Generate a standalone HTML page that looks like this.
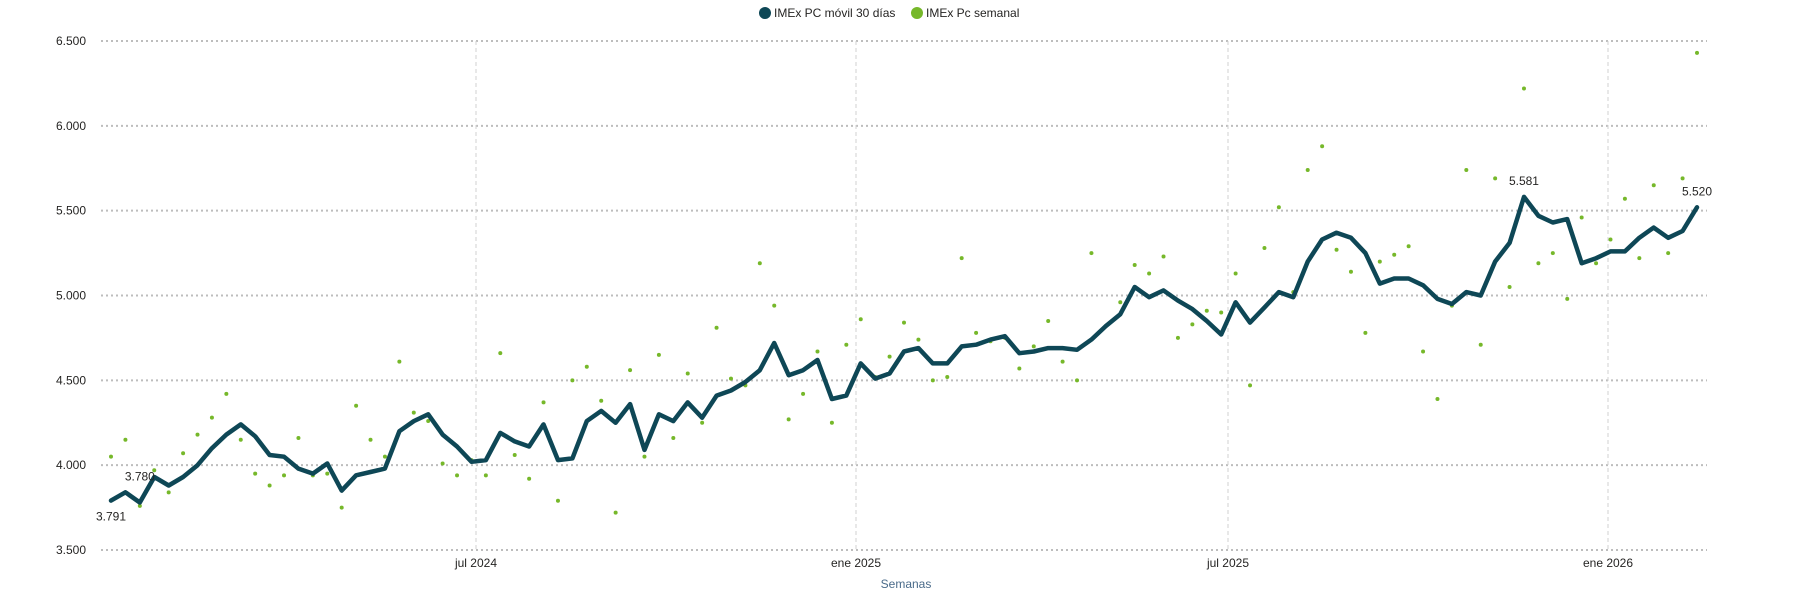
<!DOCTYPE html>
<html><head><meta charset="utf-8"><style>
html,body{margin:0;padding:0;background:#fff;}
svg{display:block;font-family:"Liberation Sans",sans-serif;}
</style></head><body>
<svg id="c" width="1793" height="593" xmlns="http://www.w3.org/2000/svg">
<g font-size="12" fill="#252423">
<circle cx="765" cy="13" r="6" fill="#0e4756"/><text x="774" y="17">IMEx PC móvil 30 días</text>
<circle cx="917" cy="13" r="6" fill="#76b82a"/><text x="926" y="17">IMEx Pc semanal</text>
</g>
<g id="grid"></g>
<g id="data"></g>
<text x="906" y="588" font-size="12" fill="#4a6b8a" text-anchor="middle">Semanas</text>
</svg>
<script>
var NS="http://www.w3.org/2000/svg";
function el(t,a,p,txt){var e=document.createElementNS(NS,t);for(var k in a)e.setAttribute(k,a[k]);if(txt)e.textContent=txt;p.appendChild(e);return e;}
function Y(v){return 41+(6500-v)/3000*509;}
var g=document.getElementById('grid'),d=document.getElementById('data');
var yl=[6500,6000,5500,5000,4500,4000,3500];
yl.forEach(function(v){var y=Y(v);
el('line',{x1:101,x2:1707,y1:y,y2:y,stroke:'#bdbdbd','stroke-width':2,'stroke-dasharray':'2 3'},g);
el('text',{x:86,y:y+4,'text-anchor':'end','font-size':12,fill:'#252423'},g,(v/1000).toFixed(3));
});
[[476,'jul 2024'],[856,'ene 2025'],[1228,'jul 2025'],[1608,'ene 2026']].forEach(function(a){
el('line',{x1:a[0],x2:a[0],y1:41,y2:550,stroke:'#d0d0d0','stroke-width':1,'stroke-dasharray':'4 3'},g);
el('text',{x:a[0],y:567,'text-anchor':'middle','font-size':12,fill:'#252423'},g,a[1]);
});
var L=[3791,3840,3780,3930,3880,3930,4000,4100,4180,4240,4170,4060,4050,3980,3950,4010,3850,3940,3960,3980,4200,4260,4300,4180,4110,4020,4030,4190,4140,4110,4240,4030,4040,4260,4320,4250,4360,4090,4300,4260,4370,4280,4410,4440,4490,4560,4720,4530,4560,4620,4390,4410,4600,4510,4540,4670,4690,4600,4600,4700,4710,4740,4760,4660,4670,4690,4690,4680,4740,4820,4890,5050,4990,5030,4970,4920,4850,4770,4960,4840,4930,5020,4990,5200,5330,5370,5340,5250,5070,5100,5100,5060,4980,4950,5020,5000,5200,5310,5581,5470,5430,5450,5190,5220,5260,5260,5340,5400,5340,5380,5520];
var D=[4050,4150,3760,3970,3840,4070,4180,4280,4420,4150,3950,3880,3940,4160,3940,3950,3750,4350,4150,4050,4610,4310,4260,4010,3940,4030,3940,4660,4060,3920,4370,3790,4500,4580,4380,3720,4560,4050,4650,4160,4540,4250,4810,4510,4470,5190,4940,4270,4420,4670,4250,4710,4860,4520,4640,4840,4740,4500,4520,5220,4780,4730,4750,4570,4700,4850,4610,4500,5250,4820,4960,5180,5130,5230,4750,4830,4910,4900,5130,4470,5280,5520,5020,5740,5880,5270,5140,4780,5200,5240,5290,4670,4390,4940,5740,4710,5690,5050,6220,5190,5250,4980,5460,5190,5330,5570,5220,5650,5250,5690,6430];
var n=L.length,x0=111,step=(1697-x0)/(n-1);
D.forEach(function(v,i){el('circle',{cx:x0+i*step,cy:Y(v),r:2,fill:'#76b82a'},d);});
var pts=L.map(function(v,i){return (x0+i*step).toFixed(1)+','+Y(v).toFixed(1);}).join(' ');
el('polyline',{points:pts,fill:'none',stroke:'#0e4756','stroke-width':4.5,'stroke-linejoin':'round','stroke-linecap':'round'},d);
function lab(i,v,t,dy){el('text',{x:x0+i*step,y:Y(v)+dy,'text-anchor':'middle','font-size':12,fill:'#252423'},d,t);}
lab(0,3791,'3.791',20);lab(2,3840,'3.780',-12);lab(98,5581,'5.581',-12);lab(n-1,5520,'5.520',-12);
</script>
</body></html>
